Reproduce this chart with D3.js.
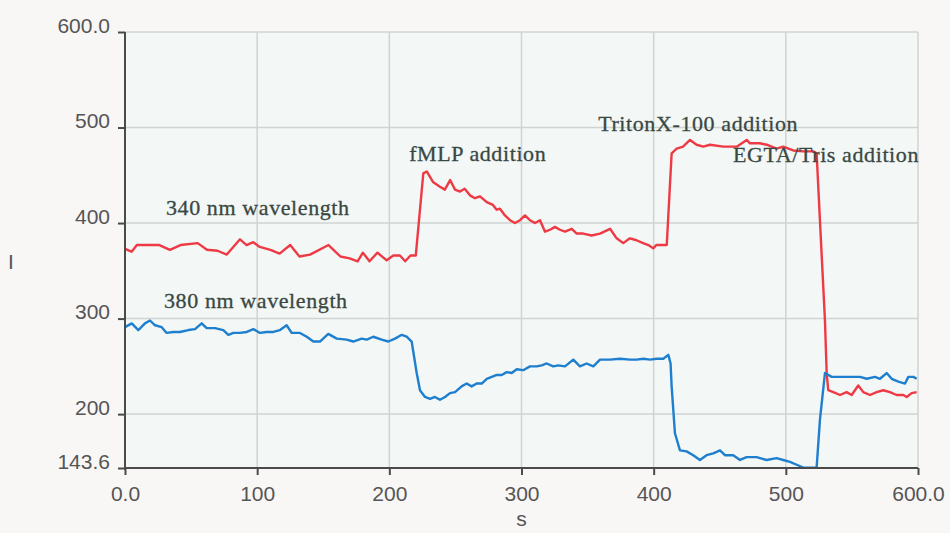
<!doctype html>
<html>
    <head>
        <script src="https://cdn.jsdelivr.net/npm/d3@7/dist/d3.min.js"></script>
        <style>
            html, body {
                margin: 0;
                padding: 0;
                background: #f9f6f6;
            }
            #viz {
                position: absolute;
                top: 0px;
                left: 0px;
                width: 950px;
                height: 533px;
            }
            .tick-label {
                font-family: "Liberation Sans", Arial, sans-serif;
                font-size: 21px;
                fill: #555;
            }
            .note {
                font-family: "Liberation Serif", "Times New Roman", serif;
                font-size: 22px;
                letter-spacing: 0.6px;
                fill: #3a4843;
                stroke: #3a4843;
                stroke-width: 0.3px;
            }
        </style>
    </head>
    <body>
        <div id="viz"></div>
        <script>
            // 340 nm trace (red)
            var time340 = [0, 5, 9, 26, 34, 42, 55, 62, 70, 77, 87, 92, 97, 102, 110, 117, 125, 132, 140, 154,
                163, 170, 176, 180, 185, 191, 198, 203, 208, 212, 216, 220, 225.7, 228.3, 233, 238.3, 242, 246,
                249.7, 253.5, 257, 261, 264.8, 268.6, 273.7, 278.4, 281.2, 283.7, 287.5, 291.3, 295, 298.9, 302.6,
                306.4, 310.2, 314, 317.8, 321.6, 325.3, 329.1, 332.9, 338, 341.8, 346.7, 353, 359.4, 367, 372, 377,
                382, 387, 392, 396, 399.7, 402, 407.3, 409.9, 413.6, 417.4, 422.2, 427.5, 432.5, 437.5, 442.6,
                452.7, 462.8, 470.4, 472.9, 480.4, 485.5, 493, 498, 505.6, 513.2, 520.8, 523.3, 525.8, 529.6, 530.9,
                532.1, 535.9, 541, 546, 549.8, 554.8, 558.6, 563.7, 568.7, 573.7, 578.8, 583.8, 588.9, 591.4, 595.2, 599];
            var values340 = [373, 370, 377, 377, 372, 377, 379, 372, 371, 367, 383, 377, 380, 375, 372, 368, 377, 365, 367, 377,
                365, 363, 360, 369, 360, 369, 361, 366, 366, 360, 366, 366, 452, 454, 443, 438, 435, 445,
                435, 433, 436, 429, 426, 428, 422, 419, 414, 415, 408, 403, 400, 403, 408,
                403, 400, 403, 391, 393, 396, 393, 391, 394, 389, 389, 387, 389, 394, 384, 379,
                384, 382, 379, 377, 373.5, 377, 377, 377, 473, 478, 480, 487, 482, 480, 482,
                480, 480, 487, 483.5, 483.5, 482, 478, 480, 476, 475, 475, 473, 403, 298, 243,
                225, 223, 220, 223, 220, 230, 223, 220, 223, 225, 223, 220, 220, 218, 222, 223];

            // 380 nm trace (blue)
            var time380 = [0, 5.1, 10.1, 15.1, 18.9, 22.7, 27.8, 31.5, 36.5, 41.6, 47.9, 53, 58, 61.8, 68.1, 74.4, 78.2,
                82, 87, 92.1, 97.1, 102.1, 107.2, 112.2, 117.3, 122.3, 126.1, 132.4, 137.5, 142.5, 147.5, 153.8,
                160.2, 167.7, 172.7, 179.1, 182.9, 187.9, 194.2, 199.2, 204.3, 209.4, 213.1, 216.9, 220.7, 223.2,
                227, 230.8, 234.5, 238.3, 242.1, 245.9, 249.7, 254.7, 258.5, 262.3, 266.1, 269.9, 273.7, 277.5,
                281.2, 285, 288.8, 292.6, 296.4, 301.3, 306.4, 311.5, 315.3, 319.1, 324, 327.8, 332.9, 339.2,
                344.2, 349.3, 354.3, 359.4, 367, 374.5, 382.1, 387.2, 392.2, 397.2, 402.3, 407.3, 411.1, 412.8,
                413.6, 416.1, 419.9, 424.9, 429.9, 435, 440, 445.1, 450.2, 453.9, 460.2, 465.3, 470.3, 477.9,
                485.5, 493, 498, 503.1, 508.2, 513.2, 518.3, 523.3, 525.8, 529.6, 534.7, 541, 548.5, 556.1,
                561.2, 567.5, 571.2, 576.3, 580.1, 585.1, 590.2, 592.7, 596.5, 599];
            var values380 = [291, 295, 288, 295, 298, 293, 291, 285, 286, 286, 288, 289, 295, 290, 290, 288, 283,
                285, 285, 286, 289, 285, 286, 286, 288, 293, 285, 285, 281, 276, 276, 284,
                279, 278, 276, 279, 278, 281, 278, 276, 279, 283, 281, 276, 243, 225,
                218, 216, 218, 215, 218, 222, 223, 229, 232, 229, 232, 232, 237, 239,
                241, 241, 244, 243, 247, 246, 250, 250, 251, 253, 250, 251, 250, 257,
                250, 253, 250, 257, 257, 258, 257, 257, 258, 257, 258, 258, 262, 253,
                229, 180, 162, 161, 157, 152, 157, 159, 162, 157, 157, 152, 155, 155,
                152, 154, 152, 150, 147, 144, 144, 144, 194, 243, 239, 239, 239, 239,
                237, 239, 237, 243, 237, 234, 232, 239, 239, 237];

            var xTicks = [0, 100, 200, 300, 400, 500, 600];
            var xTickLabels = ["0.0", "100", "200", "300", "400", "500", "600.0"];
            var yTicks = [143.6, 200, 300, 400, 500, 600];
            var yTickLabels = ["143.6", "200", "300", "400", "500", "600.0"];

            var noteTexts = ["340 nm wavelength", "380 nm wavelength", "fMLP addition", "TritonX-100 addition", "EGTA/Tris addition"];
            var noteTimes = [31, 29.5, 215, 358, 460];
            var noteValues = [408, 311, 465, 496, 464];

            var svg = d3.select("#viz").append("svg")
                .attr("width", 950)
                .attr("height", 533);

            var x = d3.scaleLinear().domain([0, 600]).range([125, 918]);
            var y = d3.scaleLinear().domain([143.6, 600]).range([468, 32]);

            // plot background
            svg.append("rect")
                .attr("x", x(0))
                .attr("y", y(600))
                .attr("width", x(600) - x(0))
                .attr("height", y(143.6) - y(600))
                .attr("fill", "#f3f7f5");

            // grid
            svg.selectAll("line.vgrid")
                .data(xTicks.slice(1))
                .enter()
                .append("line")
                    .attr("class", "vgrid")
                    .attr("x1", function (d) { return x(d); })
                    .attr("x2", function (d) { return x(d); })
                    .attr("y1", y(600))
                    .attr("y2", y(143.6))
                    .attr("stroke", "#cfd4d2")
                    .attr("stroke-width", 1.5);

            svg.selectAll("line.hgrid")
                .data(yTicks.slice(1))
                .enter()
                .append("line")
                    .attr("class", "hgrid")
                    .attr("x1", x(0))
                    .attr("x2", x(600))
                    .attr("y1", function (d) { return y(d); })
                    .attr("y2", function (d) { return y(d); })
                    .attr("stroke", "#cfd4d2")
                    .attr("stroke-width", 1.5);

            // traces
            var line = d3.line()
                .x(function (d) { return x(d[0]); })
                .y(function (d) { return y(d[1]); });

            svg.append("defs").append("clipPath")
                .attr("id", "plotclip")
                .append("rect")
                    .attr("x", x(0))
                    .attr("y", y(600))
                    .attr("width", x(600) - x(0))
                    .attr("height", y(143.6) - y(600));

            svg.append("path")
                .datum(d3.zip(time340, values340))
                .attr("d", line)
                .attr("fill", "none")
                .attr("stroke", "#ee3a45")
                .attr("stroke-width", 2.4)
                .attr("stroke-linejoin", "round")
                .attr("clip-path", "url(#plotclip)");

            svg.append("path")
                .datum(d3.zip(time380, values380))
                .attr("d", line)
                .attr("fill", "none")
                .attr("stroke", "#1f7fcf")
                .attr("stroke-width", 2.4)
                .attr("stroke-linejoin", "round")
                .attr("clip-path", "url(#plotclip)");

            // axes
            var xAxis = d3.axisBottom(x)
                .tickValues(xTicks)
                .tickFormat(function (d, i) { return xTickLabels[i]; })
                .tickSize(7)
                .tickPadding(11);

            var yAxis = d3.axisLeft(y)
                .tickValues(yTicks)
                .tickFormat(function (d, i) { return yTickLabels[i]; })
                .tickSize(7)
                .tickPadding(8);

            var gx = svg.append("g")
                .attr("transform", "translate(0," + y(143.6) + ")")
                .call(xAxis);
            var gy = svg.append("g")
                .attr("transform", "translate(" + x(0) + ",0)")
                .call(yAxis);

            [gx, gy].forEach(function (g) {
                g.select(".domain").attr("stroke", "#4a4a4a").attr("stroke-width", 2);
                g.selectAll(".tick line").attr("stroke", "#4a4a4a").attr("stroke-width", 2);
                g.selectAll(".tick text")
                    .attr("class", "tick-label")
                    .attr("font-family", null)
                    .attr("font-size", null);
            });
            gx.select(".domain").attr("d", "M" + x(0) + ",0H" + x(600));
            gy.select(".domain").attr("d", "M0," + y(600) + "V" + (y(143.6) + 2));
            gx.selectAll(".tick text").attr("fill", "#555");
            // y labels sit with their baseline on the tick
            gy.selectAll(".tick text").attr("fill", "#555").attr("dy", "0");

            svg.append("text")
                .attr("class", "tick-label")
                .attr("x", x(300))
                .attr("y", 526)
                .attr("text-anchor", "middle")
                .text("s");

            svg.append("text")
                .attr("class", "tick-label")
                .attr("x", 8)
                .attr("y", 269)
                .text("I");

            // annotations
            svg.selectAll("text.note")
                .data(noteTexts)
                .enter()
                .append("text")
                    .attr("class", "note")
                    .attr("x", function (d, i) { return x(noteTimes[i]); })
                    .attr("y", function (d, i) { return y(noteValues[i]); })
                    .text(function (d) { return d; });
        </script>
    </body>
</html>
